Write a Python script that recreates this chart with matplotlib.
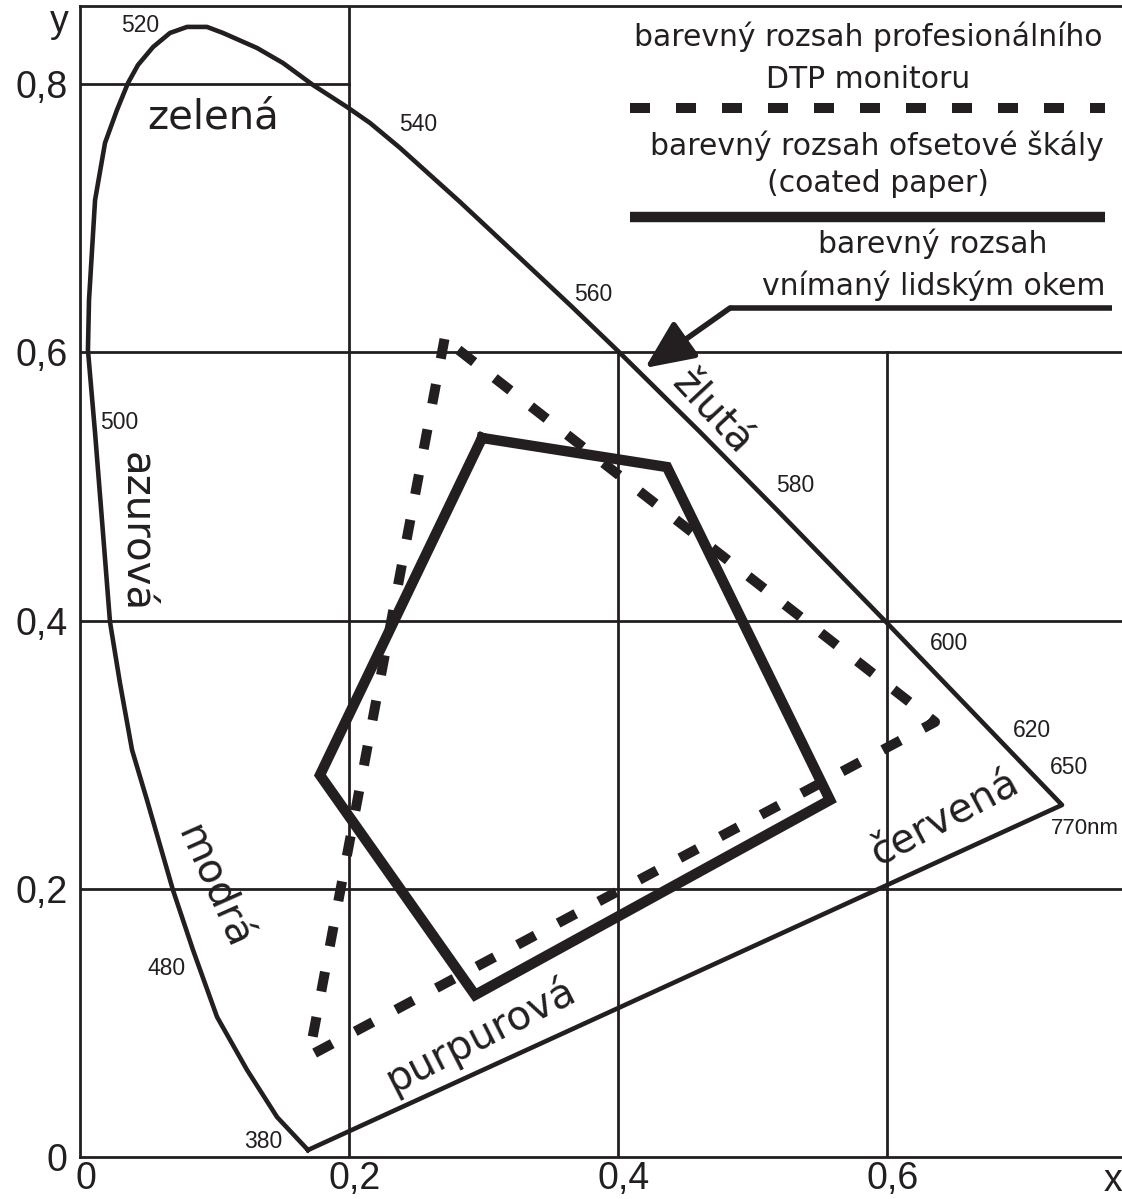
import matplotlib
matplotlib.use("Agg")
import matplotlib.pyplot as plt
import matplotlib.transforms as mtransforms

plt.rcParams['font.family'] = ['Liberation Sans', 'DejaVu Sans']
INK = "#231f20"

# spectral locus, 380 nm round to 770 nm
locus_x = [0.1695, 0.1465, 0.1242, 0.1019, 0.0840, 0.0691, 0.0498, 0.0387, 0.0297, 0.0223,
           0.0171, 0.0112, 0.0059, 0.0067, 0.0112, 0.0186, 0.0275, 0.0357, 0.0431, 0.0543,
           0.0669, 0.0796, 0.0944, 0.1063, 0.1316, 0.1509, 0.1732, 0.1985, 0.2156, 0.2379,
           0.2825, 0.3271, 0.3643, 0.4000, 0.4610, 0.5204, 0.6000, 0.7301]
locus_y = [0.0052, 0.0298, 0.0649, 0.1044, 0.1544, 0.1991, 0.2662, 0.3035, 0.3535, 0.3990,
           0.4653, 0.5399, 0.6018, 0.6391, 0.7136, 0.7562, 0.7808, 0.8009, 0.8143, 0.8277,
           0.8382, 0.8427, 0.8427, 0.8382, 0.8270, 0.8158, 0.7994, 0.7830, 0.7711, 0.7525,
           0.7122, 0.6704, 0.6354, 0.6010, 0.5406, 0.4802, 0.3982, 0.2625]

# offset printing gamut, coated paper (solid)
offset_x = [0.2989, 0.4364, 0.5576, 0.2937, 0.1784]
offset_y = [0.5362, 0.5145, 0.2662, 0.1208, 0.2848]

# professional DTP monitor gamut (dashed)
monitor_x = [0.2710, 0.1703, 0.6357]
monitor_y = [0.6100, 0.0753, 0.3244]

# wavelength marks
nm_labels = ["520", "540", "560", "580", "600", "620", "650", "500", "480", "380"]
nm_x = [0.0446, 0.2513, 0.3814, 0.5316, 0.6461, 0.7078, 0.7353, 0.0290, 0.0647, 0.1361]
nm_y = [0.8441, 0.7703, 0.6435, 0.5011, 0.3826, 0.3184, 0.2908, 0.5474, 0.1409, 0.0112]

# colour names along the locus
color_names = ["zelená", "azurová", "modrá", "žlutá", "červená", "purpurová"]
color_x = [0.0989, 0.0416, 0.0989, 0.4699, 0.6431, 0.2974]
color_y = [0.7748, 0.4661, 0.2013, 0.5556, 0.2528, 0.0910]
color_rot = [0, -90, -66, -47, 28, 27]

ticks = [0, 0.2, 0.4, 0.6, 0.8]
tick_labels = ["0", "0,2", "0,4", "0,6", "0,8"]

fig = plt.figure(figsize=(11.22, 11.99), dpi=100)
ax = fig.add_axes([80 / 1122, 42 / 1199, 1042 / 1122, 1151 / 1199])
xmax, ymax = 0.7747, 0.8583
ax.set_xlim(0, xmax)
ax.set_ylim(0, ymax)

for side in ['left', 'bottom', 'top']:
    ax.spines[side].set_linewidth(2)
    ax.spines[side].set_color(INK)
ax.spines['right'].set_visible(False)

# partial grid like the original drawing
grid_kw = dict(color=INK, lw=2, zorder=1)
ax.plot([0.2, 0.2], [0, ymax], **grid_kw)
ax.plot([0, 0.2], [0.8, 0.8], **grid_kw)
for gy in [0.2, 0.4, 0.6]:
    ax.plot([0, xmax], [gy, gy], **grid_kw)
for gx in [0.4, 0.6]:
    ax.plot([gx, gx], [0, 0.6], **grid_kw)

ax.set_xticks(ticks[:4])
ax.set_xticklabels(tick_labels[:4])
ax.set_yticks(ticks)
ax.set_yticklabels(tick_labels)
ax.tick_params(axis='both', length=0, labelsize=27, colors=INK)
ax.tick_params(axis='x', pad=3)
ax.tick_params(axis='y', pad=9)
shift = mtransforms.ScaledTranslation(6 / 100, 0, fig.dpi_scale_trans)
for lab in ax.get_xticklabels():
    lab.set_transform(lab.get_transform() + shift)

ax.text(-0.0156, 0.8464, "y", fontsize=27, color=INK, ha='center', va='center', clip_on=False)
ax.text(0.768, -0.018, "x", fontsize=27, color=INK, ha='center', va='center', clip_on=False)

# spectral locus with the purple line
ax.plot(locus_x + [locus_x[0]], locus_y + [locus_y[0]], color=INK, lw=3.3,
        solid_joinstyle='round', zorder=3)

# gamuts
ax.plot(offset_x + [offset_x[0]], offset_y + [offset_y[0]], color=INK, lw=7.5,
        solid_joinstyle='miter', zorder=4)
dash_line, = ax.plot(monitor_x + [monitor_x[0]], monitor_y + [monitor_y[0]], color=INK,
                     lw=7.2, dash_capstyle='butt', zorder=4)
dash_line.set_dashes((2.0, 2.6))

for lab, x, y in zip(nm_labels, nm_x, nm_y):
    ax.text(x, y, lab, fontsize=16.5, color=INK, ha='center', va='center')
ax.text(0.7215, 0.2453, "770nm", fontsize=16, color=INK, ha='left', va='center', clip_on=False)

for name, x, y, r in zip(color_names, color_x, color_y, color_rot):
    ax.text(x, y, name, fontsize=29, color=INK, family='DejaVu Sans', rotation=r,
            rotation_mode='anchor', ha='center', va='center')

# legend block
leg_kw = dict(fontsize=21.5, color=INK, family='DejaVu Sans', ha='center', va='baseline')
ax.text(0.5859, 0.8285, "barevný rozsah profesionálního", **leg_kw)
ax.text(0.5859, 0.7972, "DTP monitoru", **leg_kw)
leg_dash, = ax.plot([0.4089, 0.7621], [0.7822, 0.7822], color=INK, lw=7.2, dash_capstyle='butt')
leg_dash.set_dashes((2.0, 2.6))
ax.text(0.5926, 0.7472, "barevný rozsah ofsetové škály", **leg_kw)
ax.text(0.5933, 0.7196, "(coated paper)", **leg_kw)
ax.plot([0.4089, 0.7621], [0.7010, 0.7010], color=INK, lw=7.5, solid_capstyle='butt')
ax.text(0.6342, 0.6741, "barevný rozsah", **leg_kw)
ax.text(0.6349, 0.6428, "vnímaný lidským okem", **leg_kw)

# pointer to the locus
ax.plot([0.7673, 0.4833], [0.6331, 0.6331], color=INK, lw=4, solid_capstyle='butt', clip_on=False)
ax.annotate("", xy=(0.4201, 0.5884), xytext=(0.4833, 0.6331),
            arrowprops=dict(arrowstyle='-|>,head_length=1.0,head_width=0.45', color=INK,
                            lw=4, shrinkA=0, shrinkB=0, mutation_scale=30))

fig.savefig("out.png", dpi=100)
